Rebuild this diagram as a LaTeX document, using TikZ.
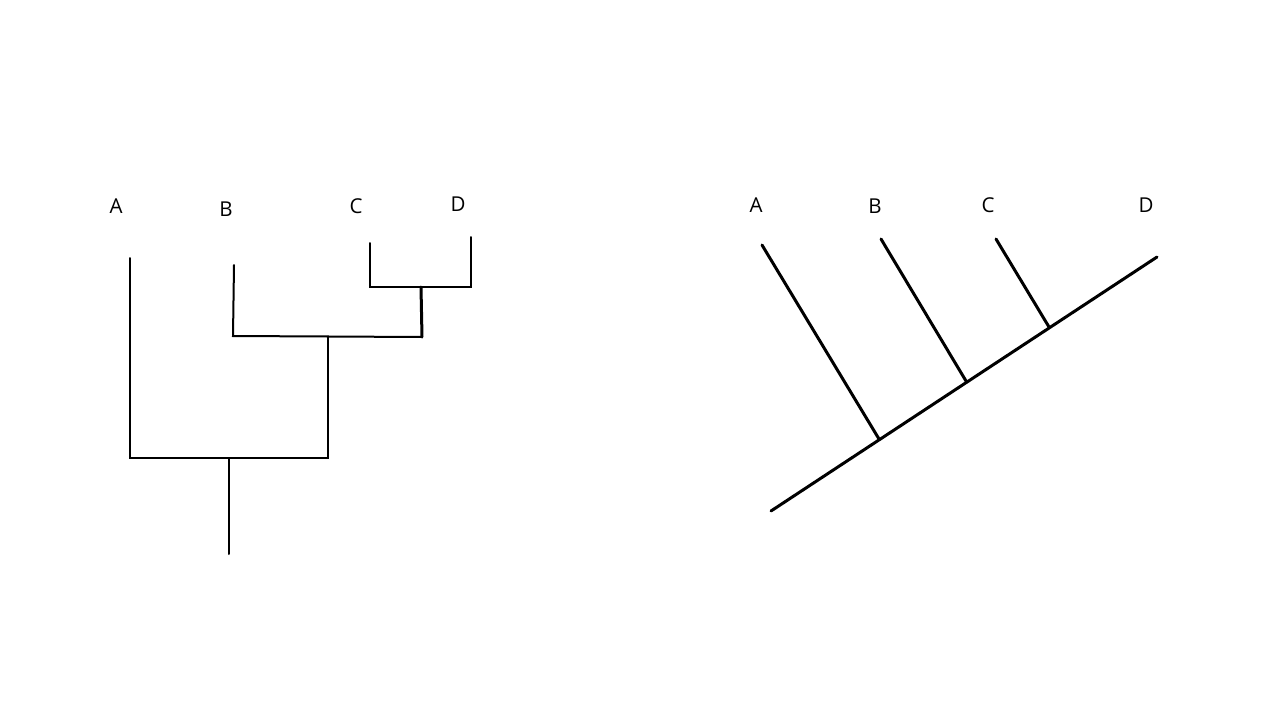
\documentclass[tikz,border=0pt]{standalone}
\usepackage{fontspec}
\setmainfont{Open Sans}
\usepackage{tikz}

\begin{document}
\begin{tikzpicture}[x=1pt, y=-1pt, font=\fontsize{20.5}{24}\selectfont,
    lab/.style={inner sep=0pt},
    branch/.style={line width=2pt, line cap=round},
    edge/.style={line width=3pt, line cap=round}]
    \useasboundingbox (0, 0) rectangle (1280, 720);
    % left tree
    \node[lab] (la) at (116, 206) {A};
    \node[lab] (lb) at (226, 209) {B};
    \node[lab] (lc) at (356, 206) {C};
    \node[lab] (ld) at (458, 204) {D};
    \coordinate (ta) at (130, 258);
    \coordinate (ba) at (130, 458);
    \coordinate (bab) at (328, 458);
    \coordinate (r) at (229, 458);
    \coordinate (rr) at (229, 554);
    \coordinate (nab) at (328, 336);
    \coordinate (tb) at (234, 265);
    \coordinate (bb) at (233, 336);
    \coordinate (bcd) at (422, 337);
    \coordinate (ncd) at (421, 287);
    \coordinate (tc) at (370, 243);
    \coordinate (bc) at (370, 287);
    \coordinate (td) at (471, 237);
    \coordinate (bd) at (471, 287);
    \draw [branch] (ta) -- (ba) -- (bab) -- (nab);
    \draw [branch] (r) -- (rr);
    \draw [branch] (tb) -- (bb) -- (bcd);
    \draw [edge] (bcd) -- (ncd);
    \draw [branch] (tc) -- (bc) -- (bd) -- (td);
    % right tree
    \node[lab] (ra) at (756, 205) {A};
    \node[lab] (rb) at (875, 206) {B};
    \node[lab] (rc) at (988, 205) {C};
    \node[lab] (rd) at (1146, 205) {D};
    \coordinate (s) at (771, 511);
    \coordinate (e) at (1157, 257);
    \coordinate (ua) at (762, 245);
    \coordinate (ja) at (879, 439);
    \coordinate (ub) at (881, 239);
    \coordinate (jb) at (966, 381);
    \coordinate (uc) at (996, 239);
    \coordinate (jc) at (1049, 327);
    \draw [edge] (s) -- (e);
    \draw [edge] (ua) -- (ja);
    \draw [edge] (ub) -- (jb);
    \draw [edge] (uc) -- (jc);
\end{tikzpicture}
\end{document}
